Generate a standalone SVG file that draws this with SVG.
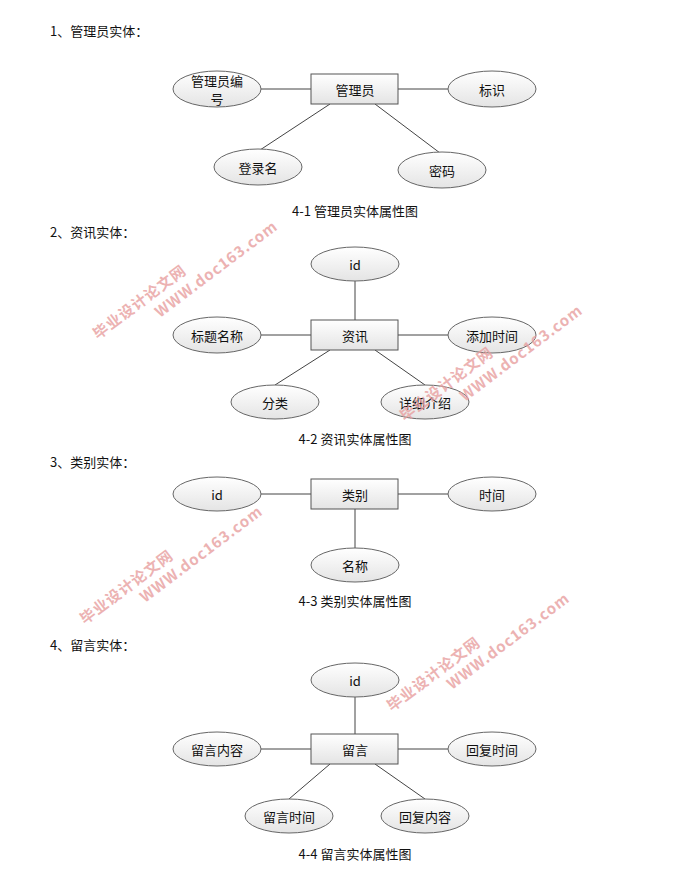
<svg xmlns="http://www.w3.org/2000/svg" width="690" height="885" viewBox="0 0 690 885">
<defs>
<linearGradient id="g" x1="0" y1="0" x2="0" y2="1"><stop offset="0" stop-color="#ffffff"/><stop offset="1" stop-color="#e4e4e4"/></linearGradient>
<style>
text{font-family:"Noto Sans CJK SC","Liberation Sans",sans-serif;font-size:13px;fill:#111}
.b{fill:url(#g);stroke:#555;stroke-width:1}
.e{fill:url(#g);stroke:#666;stroke-width:1}
.c line{stroke:#444;stroke-width:1}
.t{text-anchor:middle;dominant-baseline:central}
.wm{fill:#e8a0a0;font-weight:bold;font-size:15px;opacity:0.8;letter-spacing:1px}
</style>
</defs>
<rect width="690" height="885" fill="#fff"/>
<text x="50" y="36">1、管理员实体：</text>
<text x="50" y="237">2、资讯实体：</text>
<text x="50" y="467">3、类别实体：</text>
<text x="50" y="650">4、留言实体：</text>
<g class="c">
<line x1="261" y1="89" x2="311" y2="89"/><line x1="398" y1="89" x2="448" y2="89"/>
<line x1="330" y1="104" x2="260" y2="150"/><line x1="375" y1="104" x2="440" y2="153"/>
<line x1="355" y1="281" x2="355" y2="320"/><line x1="261" y1="335" x2="311" y2="335"/><line x1="398" y1="335" x2="448" y2="335"/>
<line x1="330" y1="350" x2="275" y2="385"/><line x1="375" y1="350" x2="425" y2="385"/>
<line x1="261" y1="494" x2="311" y2="494"/><line x1="398" y1="494" x2="448" y2="494"/><line x1="355" y1="509" x2="355" y2="548"/>
<line x1="355" y1="697" x2="355" y2="734"/><line x1="261" y1="749" x2="311" y2="749"/><line x1="398" y1="749" x2="448" y2="749"/>
<line x1="330" y1="764" x2="289" y2="799"/><line x1="375" y1="764" x2="425" y2="799"/>
</g>
<g id="n1"><rect class="b" x="311" y="74" width="87" height="30"/><text class="t" x="355" y="89">管理员</text></g>
<g id="n1a"><ellipse class="e" cx="217" cy="89" rx="44" ry="18"/><text class="t" x="217" y="80">管理员编</text><text class="t" x="217" y="98">号</text></g>
<g id="n1b"><ellipse class="e" cx="492" cy="89" rx="44" ry="18"/><text class="t" x="492" y="89">标识</text></g>
<g id="n1c"><ellipse class="e" cx="258" cy="167" rx="44" ry="18"/><text class="t" x="258" y="167">登录名</text></g>
<g id="n1d"><ellipse class="e" cx="442" cy="170" rx="44" ry="18"/><text class="t" x="442" y="170">密码</text></g>
<text class="t" x="355" y="210">4-1 管理员实体属性图</text>
<g id="n2"><rect class="b" x="311" y="320" width="87" height="30"/><text class="t" x="355" y="335">资讯</text></g>
<g id="n2a"><ellipse class="e" cx="355" cy="264" rx="44" ry="17"/><text class="t" x="355" y="264">id</text></g>
<g id="n2b"><ellipse class="e" cx="217" cy="335" rx="44" ry="18"/><text class="t" x="217" y="335">标题名称</text></g>
<g id="n2c"><ellipse class="e" cx="492" cy="335" rx="44" ry="18"/><text class="t" x="492" y="335">添加时间</text></g>
<g id="n2d"><ellipse class="e" cx="275" cy="402" rx="44" ry="17"/><text class="t" x="275" y="402">分类</text></g>
<g id="n2e"><ellipse class="e" cx="425" cy="402" rx="44" ry="17"/><text class="t" x="425" y="402">详细介绍</text></g>
<text class="t" x="355" y="438">4-2 资讯实体属性图</text>
<g id="n3"><rect class="b" x="311" y="479" width="87" height="30"/><text class="t" x="355" y="494">类别</text></g>
<g id="n3a"><ellipse class="e" cx="217" cy="494" rx="44" ry="17"/><text class="t" x="217" y="494">id</text></g>
<g id="n3b"><ellipse class="e" cx="492" cy="494" rx="44" ry="17"/><text class="t" x="492" y="494">时间</text></g>
<g id="n3c"><ellipse class="e" cx="355" cy="565" rx="44" ry="17"/><text class="t" x="355" y="565">名称</text></g>
<text class="t" x="355" y="600">4-3 类别实体属性图</text>
<g id="n4"><rect class="b" x="311" y="734" width="87" height="30"/><text class="t" x="355" y="749">留言</text></g>
<g id="n4a"><ellipse class="e" cx="355" cy="680" rx="44" ry="17"/><text class="t" x="355" y="680">id</text></g>
<g id="n4b"><ellipse class="e" cx="217" cy="749" rx="44" ry="17"/><text class="t" x="217" y="749">留言内容</text></g>
<g id="n4c"><ellipse class="e" cx="492" cy="749" rx="44" ry="17"/><text class="t" x="492" y="749">回复时间</text></g>
<g id="n4d"><ellipse class="e" cx="289" cy="816" rx="44" ry="17"/><text class="t" x="289" y="816">留言时间</text></g>
<g id="n4e"><ellipse class="e" cx="425" cy="816" rx="44" ry="17"/><text class="t" x="425" y="816">回复内容</text></g>
<text class="t" x="355" y="853">4-4 留言实体属性图</text>
<g id="watermarks">
<text class="wm" transform="translate(98,340) rotate(-37)">毕业设计论文网</text>
<text class="wm" transform="translate(160,318) rotate(-37)">WWW.doc163.com</text>
<text class="wm" transform="translate(405,422) rotate(-37)">毕业设计论文网</text>
<text class="wm" transform="translate(465,402) rotate(-37)">WWW.doc163.com</text>
<text class="wm" transform="translate(85,625) rotate(-37)">毕业设计论文网</text>
<text class="wm" transform="translate(145,603) rotate(-37)">WWW.doc163.com</text>
<text class="wm" transform="translate(392,712) rotate(-37)">毕业设计论文网</text>
<text class="wm" transform="translate(452,690) rotate(-37)">WWW.doc163.com</text>
</g>
</svg>
